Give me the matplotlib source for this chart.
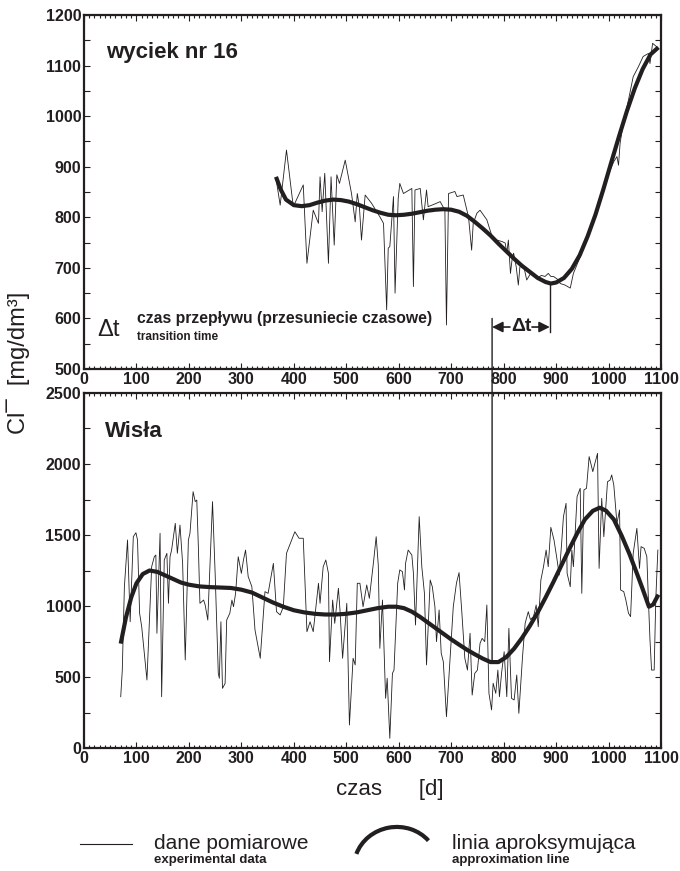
import matplotlib
matplotlib.use("Agg")
import matplotlib.pyplot as plt
from matplotlib.patches import Arc, ConnectionPatch
from matplotlib.lines import Line2D
from matplotlib.ticker import MultipleLocator

plt.rcParams['font.family'] = ['Liberation Sans', 'DejaVu Sans']
plt.rcParams['font.weight'] = 'bold'

# --- seepage no. 16: measured chloride [mg/dm3] vs time [d]
seep_days = [366, 374, 386, 399, 418, 425, 437, 447, 450, 454, 459, 466, 471, 477, 482,
             487, 498, 510, 517, 521, 525, 529, 536, 548, 564, 571, 577, 580, 583, 590,
             593, 599, 602, 609, 625, 628, 631, 641, 647, 653, 656, 668, 679, 688, 691,
             695, 707, 711, 723, 733, 739, 742, 749, 755, 768, 777, 787, 797, 803, 806,
             809, 813, 816, 819, 824, 828, 831, 838, 844, 852, 863, 872, 879, 885, 890,
             895, 902, 908, 917, 927, 933, 946, 955, 965, 975, 984, 993, 1003, 1010, 1016,
             1019, 1022, 1028, 1038, 1047, 1057, 1066, 1076, 1079, 1084, 1092]
seep_cl = [877, 824, 933, 821, 864, 709, 814, 788, 880, 811, 887, 709, 880, 745, 884,
           867, 913, 847, 791, 847, 821, 755, 844, 828, 801, 788, 617, 739, 742, 841,
           650, 837, 867, 847, 857, 663, 854, 857, 795, 854, 821, 826, 831, 814, 587,
           847, 851, 841, 844, 801, 735, 788, 808, 814, 795, 765, 755, 752, 749, 729,
           755, 689, 716, 729, 702, 666, 702, 705, 676, 690, 679, 685, 683, 689, 683,
           683, 678, 669, 666, 660, 689, 722, 748, 775, 805, 841, 870, 893, 910, 920,
           903, 946, 986, 1032, 1078, 1098, 1118, 1124, 1104, 1144, 1137]

# approximation line for the seepage
seep_fit_days = [366, 375, 385, 400, 415, 430, 445, 460, 475, 490, 505, 520, 535, 550, 565,
                 580, 595, 610, 625, 640, 655, 670, 685, 700, 715, 730, 745, 760, 775, 790,
                 805, 820, 835, 850, 865, 880, 890, 900, 915, 930, 945, 960, 975, 990, 1005,
                 1020, 1035, 1050, 1065, 1080, 1095]
seep_fit_cl = [880, 855, 835, 824, 822, 824, 829, 833, 835, 834, 831, 826, 820, 814, 809,
               805, 804, 805, 807, 810, 813, 815, 816, 815, 811, 803, 791, 778, 764, 748,
               733, 718, 704, 692, 680, 672, 669, 671, 680, 698, 725, 762, 805, 855, 908,
               960, 1010, 1055, 1093, 1122, 1136]

# --- Vistula river: measured chloride [mg/dm3] vs time [d]
river_days = [70, 73, 77, 83, 88, 94, 99, 102, 106, 110, 115, 120, 126, 129, 134,
              137, 139, 142, 145, 148, 153, 158, 161, 164, 167, 174, 178, 183, 188, 193,
              199, 202, 208, 212, 215, 218, 221, 228, 231, 236, 245, 250, 256, 258, 261,
              264, 269, 272, 278, 282, 285, 289, 294, 300, 304, 308, 313, 320, 326, 336,
              345, 351, 361, 367, 374, 380, 386, 402, 410, 418, 425, 431, 437, 447, 450,
              456, 461, 466, 468, 474, 478, 485, 488, 493, 501, 506, 513, 517, 521, 526,
              532, 539, 544, 552, 557, 561, 564, 569, 575, 578, 583, 588, 591, 598, 602,
              607, 611, 613, 618, 625, 628, 632, 639, 644, 649, 653, 660, 664, 669, 672,
              677, 681, 685, 691, 698, 704, 710, 715, 720, 726, 731, 736, 740, 745, 750,
              755, 759, 764, 768, 772, 777, 780, 785, 789, 792, 796, 801, 806, 810, 815,
              820, 825, 829, 836, 841, 847, 851, 857, 862, 866, 871, 876, 881, 885, 890,
              896, 901, 906, 911, 914, 919, 921, 927, 930, 933, 940, 946, 949, 953, 958,
              963, 970, 974, 979, 982, 987, 991, 998, 1003, 1006, 1010, 1016, 1021, 1023, 1029,
              1033, 1038, 1042, 1047, 1054, 1059, 1062, 1068, 1073, 1076, 1079, 1082, 1087, 1090, 1094]
river_cl = [361, 549, 1136, 1465, 889, 1488, 1516, 1465, 949, 854, 667, 479, 1019, 1277, 1347,
            1359, 808, 1160, 1512, 361, 1324, 1371, 1019, 1347, 1394, 1582, 1371, 1570, 1300, 620,
            1465, 1512, 1805, 1735, 1746, 1418, 1019, 1042, 1007, 901, 1735, 1230, 526, 491, 889,
            420, 455, 901, 949, 1042, 995, 1089, 1347, 1230, 1324, 1394, 1207, 1136, 831, 632,
            1101, 1089, 1300, 960, 937, 995, 1371, 1523, 1477, 1477, 819, 889, 819, 1160, 1019,
            1277, 1324, 1230, 608, 1042, 878, 1125, 972, 632, 1019, 162, 632, 585, 1160, 1160,
            995, 1148, 1054, 1312, 1488, 1289, 702, 1042, 350, 491, 68, 526, 549, 1160, 1254,
            1242, 1113, 1300, 1394, 1359, 1230, 866, 1629, 1277, 1089, 585, 1183, 1136, 995, 749,
            972, 667, 608, 220, 643, 995, 1160, 1235, 972, 632, 549, 808, 373, 526, 549,
            737, 772, 749, 1007, 385, 268, 456, 385, 549, 361, 526, 678, 361, 843, 350,
            338, 514, 244, 643, 878, 960, 905, 925, 1007, 854, 1183, 1277, 1394, 1277, 1554,
            1465, 1347, 1218, 1465, 1629, 1723, 1230, 1136, 1394, 1277, 1770, 1829, 1089, 1817, 1829,
            2052, 1946, 2005, 2075, 1265, 1758, 1488, 1875, 1887, 1923, 1852, 1582, 1676, 1113, 1101,
            1042, 949, 925, 1371, 1547, 1265, 1418, 1406, 1347, 1042, 761, 549, 549, 1042, 1394]

# approximation line for the river
river_fit_days = [70, 80, 90, 100, 112, 125, 140, 155, 170, 185, 200, 220, 240, 260, 280,
                  300, 320, 340, 360, 380, 400, 420, 440, 460, 480, 500, 520, 540, 560, 580,
                  595, 610, 625, 640, 655, 670, 685, 700, 715, 730, 745, 760, 775, 790, 805,
                  820, 835, 850, 865, 880, 895, 910, 925, 940, 955, 970, 983, 995, 1010, 1025,
                  1040, 1055, 1065, 1077, 1085, 1095]
river_fit_cl = [735, 920, 1060, 1160, 1225, 1250, 1240, 1215, 1190, 1165, 1150, 1138, 1133, 1130, 1127,
                1115, 1095, 1060, 1025, 995, 970, 955, 945, 940, 940, 945, 955, 970, 985, 995,
                995, 985, 960, 925, 885, 845, 805, 765, 728, 692, 660, 630, 605, 605, 640,
                700, 775, 860, 955, 1060, 1170, 1285, 1400, 1510, 1610, 1670, 1692, 1672, 1610, 1495,
                1365, 1220, 1120, 995, 1010, 1080]

shift_start = 778   # day of the river minimum
shift_end = 888     # day of the seepage minimum

INK = '#231f20'
W, H = 680, 871
fig = plt.figure(figsize=(W / 100, H / 100), dpi=100)


def box(l, t, r, b):
    return [l / W, 1 - b / H, (r - l) / W, (b - t) / H]


def style(ax, y0, y1, ymaj, ymin):
    ax.set_xlim(0, 1100)
    ax.set_ylim(y0, y1)
    ax.xaxis.set_major_locator(MultipleLocator(100))
    ax.xaxis.set_minor_locator(MultipleLocator(10))
    ax.yaxis.set_major_locator(MultipleLocator(ymaj))
    ax.yaxis.set_minor_locator(MultipleLocator(ymin))
    ax.tick_params(which='both', direction='in', top=True, right=True,
                   width=0.8, color=INK, labelsize=11.5, labelcolor=INK)
    ax.tick_params(axis='x', which='major', length=4.5, pad=2)
    ax.tick_params(axis='x', which='minor', length=2)
    ax.tick_params(axis='y', which='both', length=4.5, pad=2)
    for s in ax.spines.values():
        s.set_linewidth(1.6)
        s.set_color(INK)


ax1 = fig.add_axes(box(84, 15, 661, 369))
ax2 = fig.add_axes(box(84, 393, 661, 748))
style(ax1, 500, 1200, 100, 50)
style(ax2, 0, 2500, 500, 250)

ax1.plot(seep_days, seep_cl, color=INK, lw=0.6)
ax1.plot(seep_fit_days, seep_fit_cl, color=INK, lw=3.0, solid_capstyle='butt')
ax2.plot(river_days, river_cl, color=INK, lw=0.6)
ax2.plot(river_fit_days, river_fit_cl, color=INK, lw=3.0, solid_capstyle='butt')

ax1.text(43, 1125, 'wyciek nr 16', fontsize=16, va='center', color=INK)
ax2.text(40, 2230, 'Wisła', fontsize=16, va='center', color=INK)

# transition time annotation
ax1.text(25, 578, 'Δt', fontsize=17, va='center', color=INK, fontweight='normal')
ax1.text(101, 600, 'czas przepływu (przesuniecie czasowe)', fontsize=11.3,
         va='center', color=INK)
ax1.text(101, 563, 'transition time', fontsize=8.5, va='center', color=INK)

# vertical marker joining the river minimum with the upper panel
con = ConnectionPatch(xyA=(shift_start, 600), coordsA=ax1.transData,
                      xyB=(shift_start, 600), coordsB=ax2.transData,
                      color=INK, lw=1.0)
fig.add_artist(con)
ax1.plot([shift_end, shift_end], [573, 670], color=INK, lw=1.0)
ax1.text((shift_start + shift_end) / 2, 584, 'Δt', fontsize=14, ha='center',
         va='center', color=INK)
arrow_kw = dict(arrowstyle='-|>', color=INK, lw=1.2, mutation_scale=16,
                shrinkA=0, shrinkB=0)
ax1.annotate('', xy=(shift_start, 583), xytext=(shift_start + 34, 583),
             arrowprops=arrow_kw)
ax1.annotate('', xy=(shift_end, 583), xytext=(shift_end - 34, 583),
             arrowprops=arrow_kw)

# overlay in pixel units for axis titles and the key
ov = fig.add_axes([0, 0, 1, 1])
ov.set_xlim(0, W)
ov.set_ylim(H, 0)
ov.axis('off')

ov.text(18, 363, 'Cl¯  [mg/dm³]', rotation=90, fontsize=17, ha='center',
        va='center', color=INK, fontweight='normal')
ov.text(390, 789, 'czas      [d]', fontsize=16, ha='center', va='center',
        color=INK, fontweight='normal')

ov.add_line(Line2D([80, 132], [844, 844], color=INK, lw=0.8))
ov.text(154, 843, 'dane pomiarowe', fontsize=15, va='center', color=INK,
        fontweight='normal')
ov.text(154, 860, 'experimental data', fontsize=9.5, va='center', color=INK)

ov.add_patch(Arc((396, 866), 84, 78, angle=-8, theta1=205, theta2=330,
                 color=INK, lw=3.0))
ov.text(452, 843, 'linia aproksymująca', fontsize=15, va='center', color=INK,
        fontweight='normal')
ov.text(452, 860, 'approximation line', fontsize=9.5, va='center', color=INK)

fig.savefig('out.png', dpi=100)
